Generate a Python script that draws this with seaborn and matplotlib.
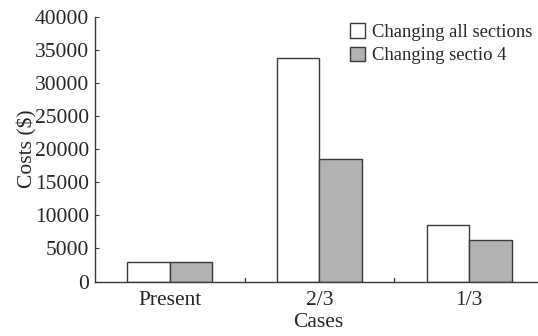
import matplotlib
matplotlib.use('Agg')
import matplotlib.pyplot as plt
import seaborn as sns
import pandas as pd

# data
cases = ['Present', '2/3', '1/3']
all_sections = [3000, 33800, 8500]
section_4 = [3000, 18500, 6300]
series_names = ['Changing all sections', 'Changing sectio 4']

df = pd.DataFrame({
    'case': cases * 2,
    'cost': all_sections + section_4,
    'series': [series_names[0]] * 3 + [series_names[1]] * 3,
})

sns.set_style('ticks')
plt.rcParams['font.family'] = ['Liberation Serif', 'DejaVu Serif']

fig = plt.figure(figsize=(5.38, 3.36), dpi=100)
ax = fig.add_axes([0.176, 0.162, 0.83, 0.788])

sns.barplot(data=df, x='case', y='cost', hue='series', order=cases,
            hue_order=series_names, palette=['white', '#b2b2b2'],
            width=0.565, edgecolor='#3a3a3a', linewidth=1.0, ax=ax)

ax.set_xlim(-0.5, 2.48)
ax.set_ylim(0, 40000)
ax.set_yticks(range(0, 40001, 5000))
ax.set_xticks([0, 1, 2])
ax.set_xticklabels(cases)
ax.tick_params(axis='x', length=0, labelsize=15.5, pad=7)
ax.tick_params(axis='y', direction='in', length=3, labelsize=15.5, pad=4,
               color='#3a3a3a')
# small boundary ticks between the groups
for xb in [0.5, 1.5]:
    ax.plot([xb, xb], [0, 500], color='#3a3a3a', lw=1.0, clip_on=False)

for s in ['top', 'right']:
    ax.spines[s].set_visible(False)
for s in ['left', 'bottom']:
    ax.spines[s].set_color('#3a3a3a')
    ax.spines[s].set_linewidth(1.0)

ax.set_xlabel('Cases', fontsize=15.5, labelpad=2)
ax.set_ylabel('Costs ($)', fontsize=15.5, labelpad=-2)

leg = ax.legend(loc='upper left', bbox_to_anchor=(0.555, 1.003), frameon=False,
                fontsize=13.4, handlelength=0.8, handleheight=0.8,
                handletextpad=0.4, labelspacing=0.3, borderaxespad=0.0)

fig.savefig('out.png', dpi=100)
